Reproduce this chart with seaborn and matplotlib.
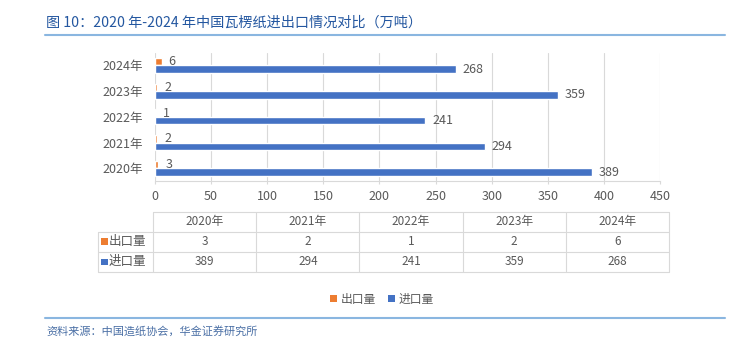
import matplotlib
matplotlib.use("Agg")
import matplotlib.pyplot as plt
from matplotlib.lines import Line2D
from matplotlib.patches import Patch, Rectangle
import seaborn as sns
import pandas as pd

# Data (万吨)
years = ["2020年", "2021年", "2022年", "2023年", "2024年"]
export_vals = [3, 2, 1, 2, 6]
import_vals = [389, 294, 241, 359, 268]
series_names = ["出口量", "进口量"]
x_ticks = [0, 50, 100, 150, 200, 250, 300, 350, 400, 450]

title_text = "图 10：2020 年-2024 年中国瓦楞纸进出口情况对比（万吨）"
source_text = "资料来源：中国造纸协会，华金证券研究所"

ORANGE = "#ED7D31"
BLUE = "#4472C4"
GREY = "#595959"
LINE = "#D9D9D9"
TITLE_BLUE = "#2457A0"
RULE_BLUE = "#8AB6E0"

sns.set_theme(style="white")
plt.rcParams["font.family"] = ["Noto Sans CJK SC", "DejaVu Sans"]

W, H = 732, 343
fig = plt.figure(figsize=(W / 100, H / 100), dpi=100)


def fx(x):
    return x / W


def fy(y):
    return 1 - y / H


# main bar chart
ax = fig.add_axes([fx(155), fy(181.3), (660 - 155) / W, (181.3 - 52.5) / H])

df = pd.DataFrame({
    "年份": years * 2,
    "类别": [series_names[0]] * len(years) + [series_names[1]] * len(years),
    "数值": export_vals + import_vals,
})

sns.barplot(
    data=df, y="年份", x="数值", hue="类别",
    order=years[::-1], hue_order=series_names,
    palette=[ORANGE, BLUE], orient="h", width=0.58,
    saturation=1, errorbar=None, ax=ax, legend=False,
)

for cont in ax.containers:
    ax.bar_label(cont, padding=5, fontsize=9, color=GREY)

ax.set_xlim(0, 450)
ax.set_xticks(x_ticks)
ax.set_xticklabels([str(t) for t in x_ticks])
ax.set_xlabel("")
ax.set_ylabel("")
ax.grid(axis="x", color=LINE, linewidth=0.8)
ax.grid(axis="y", visible=False)
ax.set_axisbelow(True)
for side in ["top", "right", "left"]:
    ax.spines[side].set_visible(False)
ax.spines["bottom"].set_color(LINE)
ax.spines["bottom"].set_linewidth(0.8)
ax.tick_params(axis="x", length=2.5, width=0.8, color=LINE, pad=4,
               labelsize=9, labelcolor=GREY, bottom=True)
ax.tick_params(axis="y", length=0, pad=9, labelsize=9, labelcolor=GREY)

# data table beneath the axis
col_edges = [153 + i * (669 - 153) / 5 for i in range(6)]
row_edges = [212, 231.5, 251.5, 272]
tab_left = 98


def hline(x0, x1, y, color=LINE, lw=0.8):
    fig.add_artist(Line2D([fx(x0), fx(x1)], [fy(y), fy(y)], color=color,
                          linewidth=lw, transform=fig.transFigure))


def vline(x, y0, y1, color=LINE, lw=0.8):
    fig.add_artist(Line2D([fx(x), fx(x)], [fy(y0), fy(y1)], color=color,
                          linewidth=lw, transform=fig.transFigure))


hline(col_edges[0], col_edges[-1], row_edges[0])
for y in row_edges[1:]:
    hline(tab_left, col_edges[-1], y)
vline(tab_left, row_edges[1], row_edges[-1])
for x in col_edges:
    vline(x, row_edges[0], row_edges[-1])

table_rows = [years, [str(v) for v in export_vals], [str(v) for v in import_vals]]
for r, row in enumerate(table_rows):
    yc = (row_edges[r] + row_edges[r + 1]) / 2
    for c, txt in enumerate(row):
        xc = (col_edges[c] + col_edges[c + 1]) / 2
        fig.text(fx(xc), fy(yc), txt, ha="center", va="center",
                 fontsize=8.5, color=GREY)

# row headers: colour key square followed by the series name
sq = 6.5
for r, (name, colr) in enumerate(zip(series_names, [ORANGE, BLUE])):
    yc = (row_edges[r + 1] + row_edges[r + 2]) / 2
    fig.add_artist(Rectangle((fx(101.5), fy(yc + sq / 2)), sq / W, sq / H,
                             facecolor=colr, edgecolor="none",
                             transform=fig.transFigure))
    fig.text(fx(109), fy(yc), name, ha="left", va="center", fontsize=9,
             color=GREY)

# legend
handles = [Patch(facecolor=ORANGE, edgecolor="none"),
           Patch(facecolor=BLUE, edgecolor="none")]
fig.legend(handles, series_names, loc="center", bbox_to_anchor=(fx(382), fy(299)),
           ncol=2, frameon=False, fontsize=8.5, labelcolor=GREY,
           handlelength=0.6, handleheight=0.6, handletextpad=0.3,
           columnspacing=1.0)

# title, rules and source note
fig.text(fx(46), fy(23), title_text, ha="left", va="center", fontsize=10.2,
         color=TITLE_BLUE)
hline(45, 725, 34.5, color=RULE_BLUE, lw=1.5)
hline(45, 725, 318, color=RULE_BLUE, lw=1.5)
fig.text(fx(46), fy(331), source_text, ha="left", va="center", fontsize=8,
         color="#4A6FA5", style="italic")

fig.savefig("out.png", dpi=100)
